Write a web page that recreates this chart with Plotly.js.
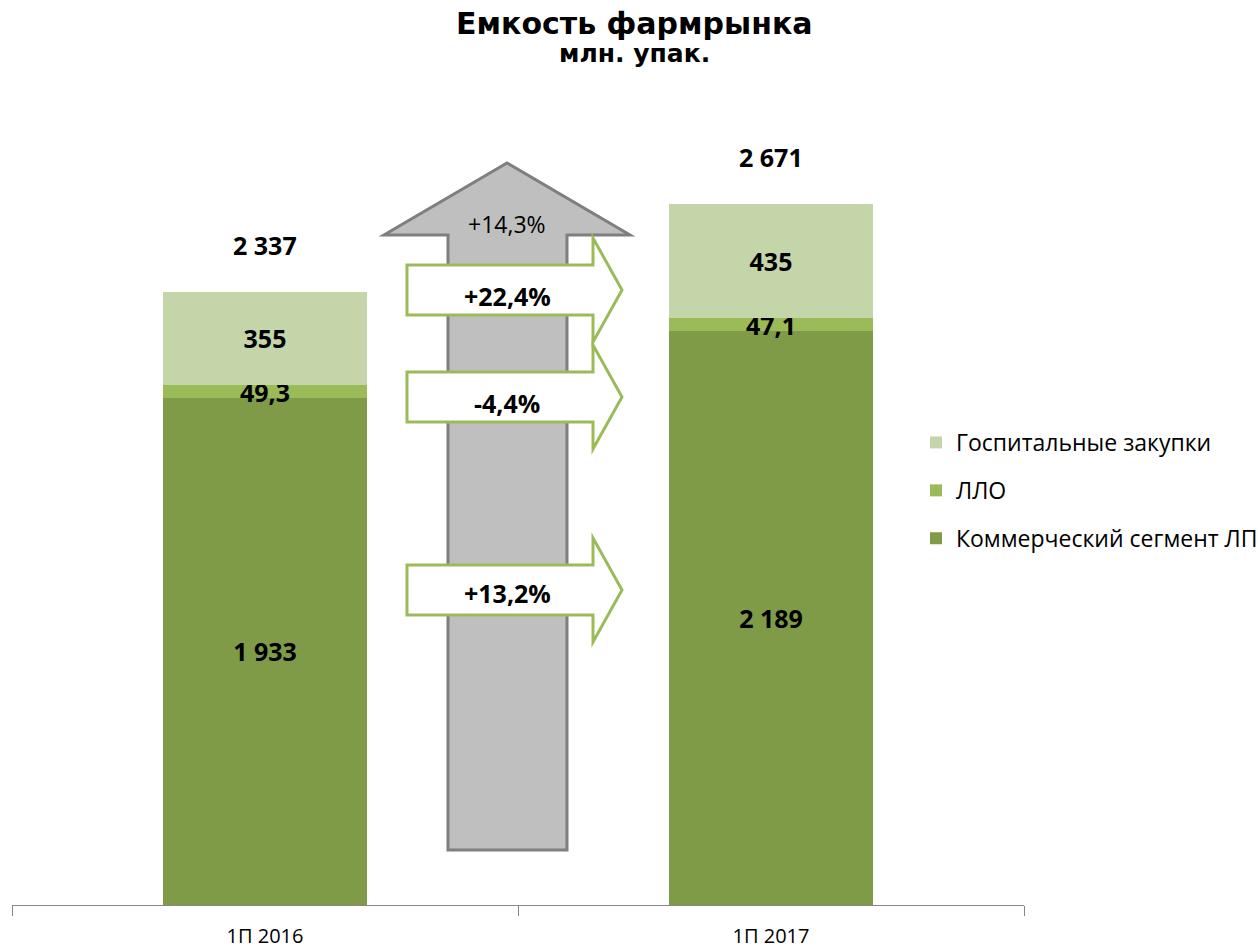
<!DOCTYPE html>
<html><head><meta charset="utf-8">
<script src="https://cdn.plot.ly/plotly-3.0.1.min.js"></script>
<style>body{margin:0;background:#fff}#c{width:1258px;height:952px}</style>
</head><body><div id="c"></div>
<script>
const categories = ['1П 2016', '1П 2017'];
const commercial = [1933, 2189];
const llo = [49.3, 47.1];
const hospital = [355, 435];
const totals = [2337, 2671];
const changeTotal = '+14,3%';
const changeHospital = '+22,4%';
const changeLlo = '-4,4%';
const changeCommercial = '+13,2%';
const seriesNames = ['Коммерческий сегмент ЛП', 'ЛЛО', 'Госпитальные закупки'];
const titleText = 'Емкость фармрынка';
const subtitleText = 'млн. упак.';

const L = 12, R = 1024, T = 100, B = 905;
const px = x => (x - L) / (R - L);
const py = y => (B - y) / (B - T);

const lblFont = {family: 'Open Sans, sans-serif', size: 25, color: '#000', weight: 'bold'};
function bar(vals, name, color, tmpl, rank) {
  return {type: 'bar', x: categories, y: vals, name: name, legendgroup: name, legendrank: rank,
    marker: {color: color, line: {width: 0}},
    texttemplate: tmpl, textposition: 'inside', insidetextanchor: 'middle',
    textangle: 0, constraintext: 'none',
    textfont: lblFont, hoverinfo: 'skip'};
}
const data = [
  bar(commercial, seriesNames[0], '#7F9B47', '%{y:,.0f}', 3),
  bar(llo, seriesNames[1], '#9BBB59', '%{y:.1f}', 2),
  bar(hospital, seriesNames[2], '#C4D5AA', '%{y:,.0f}', 1)
];

function greenArrow(c) {
  const bt = c - 25, bb = c + 25, ht = c - 52, hb = c + 52;
  return {type: 'path', xref: 'paper', yref: 'paper',
    path: `M ${px(407)},${py(bt)} L ${px(593)},${py(bt)} L ${px(593)},${py(ht)} L ${px(622)},${py(c)} L ${px(593)},${py(hb)} L ${px(593)},${py(bb)} L ${px(407)},${py(bb)} Z`,
    fillcolor: '#FFFFFF', line: {color: '#9BBB59', width: 3}};
}
const shapes = [
  {type: 'path', xref: 'paper', yref: 'paper',
   path: `M ${px(448)},${py(850)} L ${px(567)},${py(850)} L ${px(567)},${py(235)} L ${px(630)},${py(235)} L ${px(507)},${py(163)} L ${px(384)},${py(235)} L ${px(448)},${py(235)} Z`,
   fillcolor: '#BFBFBF', line: {color: '#7F7F7F', width: 3}},
  greenArrow(290), greenArrow(397), greenArrow(590)
];

const fmt = v => String(v).replace(/\B(?=(\d{3})+(?!\d))/g, ' ');
const annotations = totals.map((t, i) => ({
  x: categories[i], y: t, xref: 'x', yref: 'y', text: fmt(t), showarrow: false,
  yanchor: 'middle', yshift: 47, font: lblFont
}));
function pct(text, y, size, bold) {
  return {xref: 'paper', yref: 'paper', x: px(507), y: py(y), text: text, showarrow: false,
    xanchor: 'center', yanchor: 'middle',
    font: {family: 'Open Sans, sans-serif', size: size, color: '#000', weight: bold ? 'bold' : 'normal'}};
}
annotations.push(pct(changeTotal, 224, 23, false));
annotations.push(pct(changeHospital, 296, 25, true));
annotations.push(pct(changeLlo, 403, 25, true));
annotations.push(pct(changeCommercial, 593, 25, true));
annotations.push({xref: 'paper', yref: 'paper', x: px(634), y: py(23), text: titleText, showarrow: false,
  xanchor: 'center', yanchor: 'middle',
  font: {family: 'DejaVu Sans, sans-serif', size: 30, color: '#000', weight: 'bold'}});
annotations.push({xref: 'paper', yref: 'paper', x: px(634), y: py(54), text: subtitleText, showarrow: false,
  xanchor: 'center', yanchor: 'middle',
  font: {family: 'DejaVu Sans, sans-serif', size: 25, color: '#000', weight: 'bold'}});

const layout = {
  width: 1258, height: 952,
  margin: {l: L, r: 1258 - R, t: T, b: 952 - B, autoexpand: false},
  paper_bgcolor: '#fff', plot_bgcolor: '#fff',
  separators: ', ',
  barmode: 'stack', bargap: 0.595,
  xaxis: {type: 'category', showline: true, linecolor: '#868686', linewidth: 1,
    ticks: 'outside', tickson: 'boundaries', ticklen: 10, tickcolor: '#868686',
    ticklabelstandoff: 13,
    tickfont: {family: 'Open Sans, sans-serif', size: 20, color: '#000'},
    showgrid: false, zeroline: false, fixedrange: true, automargin: false},
  yaxis: {range: [0, (B - T) / 0.2623], visible: false, showgrid: false, zeroline: false, automargin: false},
  showlegend: true,
  legend: {x: px(916), y: py(421), xanchor: 'left', yanchor: 'top', xref: 'paper', yref: 'paper',
    traceorder: 'grouped', tracegroupgap: 15,
    font: {family: 'Open Sans, sans-serif', size: 23, color: '#000'},
    itemwidth: 30, bgcolor: 'rgba(0,0,0,0)'},
  uniformtext: {mode: 'show', minsize: 25},
  shapes: shapes,
  annotations: annotations
};
Plotly.newPlot('c', data, layout, {staticPlot: true, displayModeBar: false});
</script></body></html>
